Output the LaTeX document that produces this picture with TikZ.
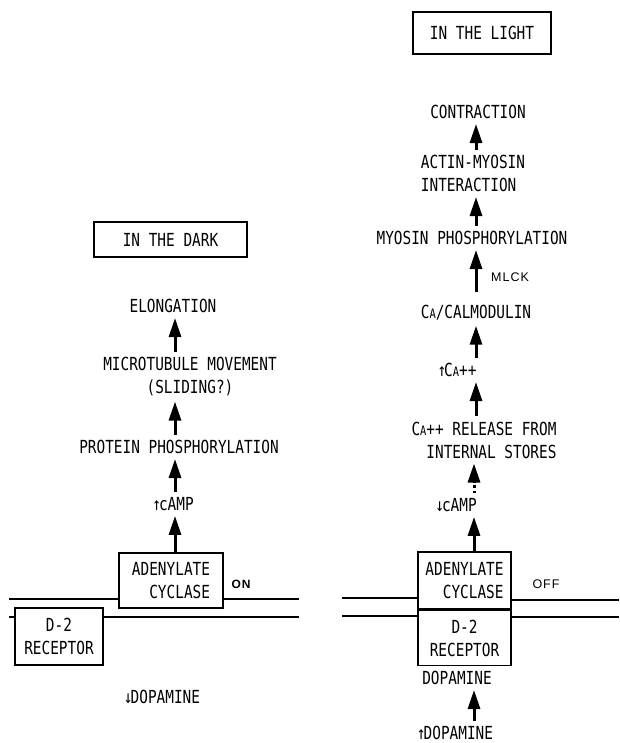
\documentclass[tikz,border=0pt]{standalone}
\usepackage{fontspec}
\setmainfont[FakeStretch=0.8]{DejaVu Sans Mono}
\newfontfamily\tagfont[LetterSpace=8]{Liberation Sans}
\usetikzlibrary{arrows.meta}

% 小号 A
\newcommand{\CA}{C{\fontsize{13}{13}\selectfont A}}

\begin{document}
\begin{tikzpicture}[x=1pt, y=-1pt,
    every node/.style={font=\fontsize{18}{23}\selectfont, inner xsep=0pt, inner ysep=5pt},
    box/.style={draw, line width=1.6pt, inner sep=0pt},
    bigarrow/.style={line width=3pt, -{Triangle[length=19pt, width=12pt]}},
    dots/.style={line width=3pt, dash pattern=on 2.5pt off 3pt},
    membrane/.style={line width=1.8pt},
    tag/.style={font=\tagfont\fontsize{12.5}{12.5}\selectfont}]
    \useasboundingbox (0,0) rectangle (619,743);

    % 暗处
    \node[box, minimum width=153pt, minimum height=35pt] (dark) at (170.5,239.5) {IN THE DARK};
    \node (elong) at (173,306) {ELONGATION};
    \node[align=center] (micro) at (190,377) {MICROTUBULE MOVEMENT\\(SLIDING?)};
    \node (protein) at (179,447) {PROTEIN PHOSPHORYLATION};
    \node (camp) at (173,504) {↑\kern-2pt cAMP};
    \node[box, align=right, minimum width=104pt, minimum height=55pt] (ac) at (171,580.5) {ADENYLATE\\CYCLASE};
    \node[tag, font=\tagfont\bfseries\fontsize{12}{12}\selectfont] (on) at (241,584) {ON};
    \node[box, align=center, minimum width=88pt, minimum height=57pt] (rec) at (59,636.5) {D-2\\RECEPTOR};
    \node (lowdop) at (162,697) {↓\kern-2pt DOPAMINE};

    % 左侧箭头
    \coordinate (laxis) at (175,0);
    \draw[bigarrow] (micro.north -| laxis) -- (elong.south -| laxis);
    \draw[bigarrow] (protein.north -| laxis) -- (micro.south -| laxis);
    \draw[bigarrow] (camp.north -| laxis) -- (protein.south -| laxis);
    \draw[bigarrow] (ac.north -| laxis) -- (camp.south -| laxis);

    % 左侧膜
    \coordinate (lA) at (9,599);
    \coordinate (lB) at (299,599);
    \coordinate (lC) at (9,617);
    \coordinate (lD) at (299,617);
    \draw[membrane] (lA) -- (ac.west |- lA);
    \draw[membrane] (ac.east |- lB) -- (lB);
    \draw[membrane] (lC) -- (rec.west |- lC);
    \draw[membrane] (rec.east |- lD) -- (lD);

    % 亮处
    \node[box, minimum width=138pt, minimum height=42pt] (light) at (482,33) {IN THE LIGHT};
    \node (contr) at (478,112) {CONTRACTION};
    \node[align=left] (actin) at (473,173.5) {ACTIN-MYOSIN\\INTERACTION};
    \node (myosin) at (472,238) {MYOSIN PHOSPHORYLATION};
    \node[tag] (mlck) at (510,277) {MLCK};
    \node (calm) at (476,313) {\CA/CALMODULIN};
    \node (ca) at (457,370) {↑\kern-2pt\CA++};
    \node[align=right] (release) at (484,440) {\CA++ RELEASE FROM\\INTERNAL STORES};
    \node (camp2) at (456,505) {↓\kern-2pt cAMP};
    \node[box, align=right, minimum width=93pt, minimum height=57pt] (ac2) at (464.5,580.5) {ADENYLATE\\CYCLASE};
    \node[box, align=center, minimum width=93pt, minimum height=55pt, anchor=north] (rec2) at (ac2.south) {D-2\\RECEPTOR};
    \node[tag] (off) at (546,584) {OFF};
    \node (dop) at (457,678) {DOPAMINE};
    \node (updop) at (455,733) {↑\kern-2pt DOPAMINE};

    % 右侧箭头
    \coordinate (raxis) at (476,0);
    \coordinate (baxis) at (474,0);
    \draw[bigarrow] (actin.north -| raxis) -- (contr.south -| raxis);
    \draw[bigarrow] (myosin.north -| raxis) -- (actin.south -| raxis);
    \draw[bigarrow, shorten <=8pt] (calm.north -| raxis) -- (myosin.south -| raxis);
    \draw[bigarrow] (ca.north -| raxis) -- (calm.south -| raxis);
    \draw[bigarrow] (release.north -| raxis) -- (ca.south -| raxis);
    \coordinate (dotend) at (474,483);
    \draw[dots] (camp2.north -| baxis) -- (dotend);
    \draw[bigarrow] (dotend) -- (release.south -| baxis);
    \draw[bigarrow] (ac2.north -| baxis) -- (camp2.south -| baxis);
    \draw[bigarrow] (updop.north -| baxis) -- (dop.south -| baxis);

    % 右侧膜
    \coordinate (rA) at (342,598);
    \coordinate (rB) at (619,600);
    \coordinate (rC) at (342,616);
    \coordinate (rD) at (619,617);
    \draw[membrane] (rA) -- (ac2.west |- rA);
    \draw[membrane] (ac2.east |- rB) -- (rB);
    \draw[membrane] (rC) -- (rec2.west |- rC);
    \draw[membrane] (rec2.east |- rD) -- (rD);
\end{tikzpicture}
\end{document}
